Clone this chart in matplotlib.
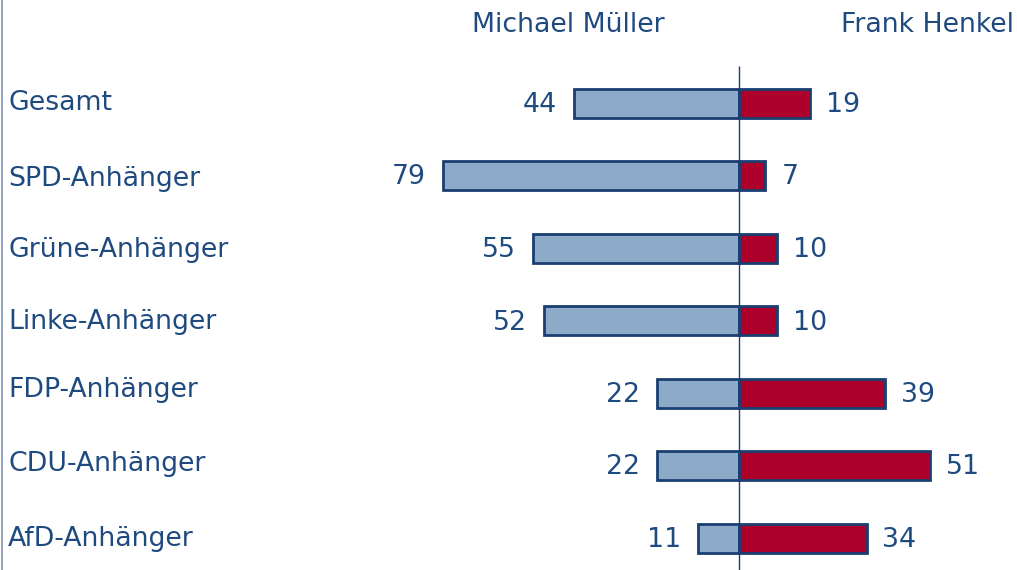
import matplotlib
matplotlib.use("Agg")
import matplotlib.pyplot as plt
from matplotlib.lines import Line2D

categories = ["Gesamt", "SPD-Anhänger", "Grüne-Anhänger", "Linke-Anhänger",
              "FDP-Anhänger", "CDU-Anhänger", "AfD-Anhänger"]
mueller = [44, 79, 55, 52, 22, 22, 11]
henkel = [19, 7, 10, 10, 39, 51, 34]
series_names = ["Michael Müller", "Frank Henkel"]

W, H = 1017, 570
cx = 739.0
ppu = 3.75
y0 = 103.0
dy = 72.5
label_px_y = [103, 179, 250, 322, 390, 464, 539]

text_col = "#1f4a80"
edge_col = "#1b3e72"
blue = "#8dabc8"
red = "#ad002b"

fig = plt.figure(figsize=(W / 100, H / 100), dpi=100)
ax = fig.add_axes([0, 0, 1, 1])
ax.set_xlim(-cx / ppu, (W - cx) / ppu)
ax.set_ylim((H - y0) / dy, -y0 / dy)
ax.axis("off")

ys = list(range(len(categories)))
ax.barh(ys, [-v for v in mueller], height=0.4, color=blue, edgecolor=edge_col, linewidth=2, zorder=2)
ax.barh(ys, henkel, height=0.4, color=red, edgecolor=edge_col, linewidth=2, zorder=2)
ax.vlines(0, (66 - y0) / dy, (H - y0) / dy, color=edge_col, linewidth=1, zorder=3)

fs = 19.3
offl = 17 / ppu
offr = 16 / ppu
vshift = 2 / dy
for i, (m, h, c) in enumerate(zip(mueller, henkel, categories)):
    ax.text(-m - offl, i + vshift, str(m), ha="right", va="center", fontsize=fs, color=text_col)
    ax.text(h + offr, i + vshift, str(h), ha="left", va="center", fontsize=fs, color=text_col)
    fig.text(8 / W, 1 - label_px_y[i] / H, c,
             ha="left", va="center", fontsize=fs, color=text_col)

fig.text(568.5 / W, 1 - 25 / H, series_names[0], ha="center", va="center", fontsize=fs, color=text_col)
fig.text(927.5 / W, 1 - 25 / H, series_names[1], ha="center", va="center", fontsize=fs, color=text_col)

fig.add_artist(Line2D([2 / W, 2 / W], [0, 1], transform=fig.transFigure, color="#7f95b5", linewidth=1.2))

fig.savefig("out.png", dpi=100, facecolor="white")
